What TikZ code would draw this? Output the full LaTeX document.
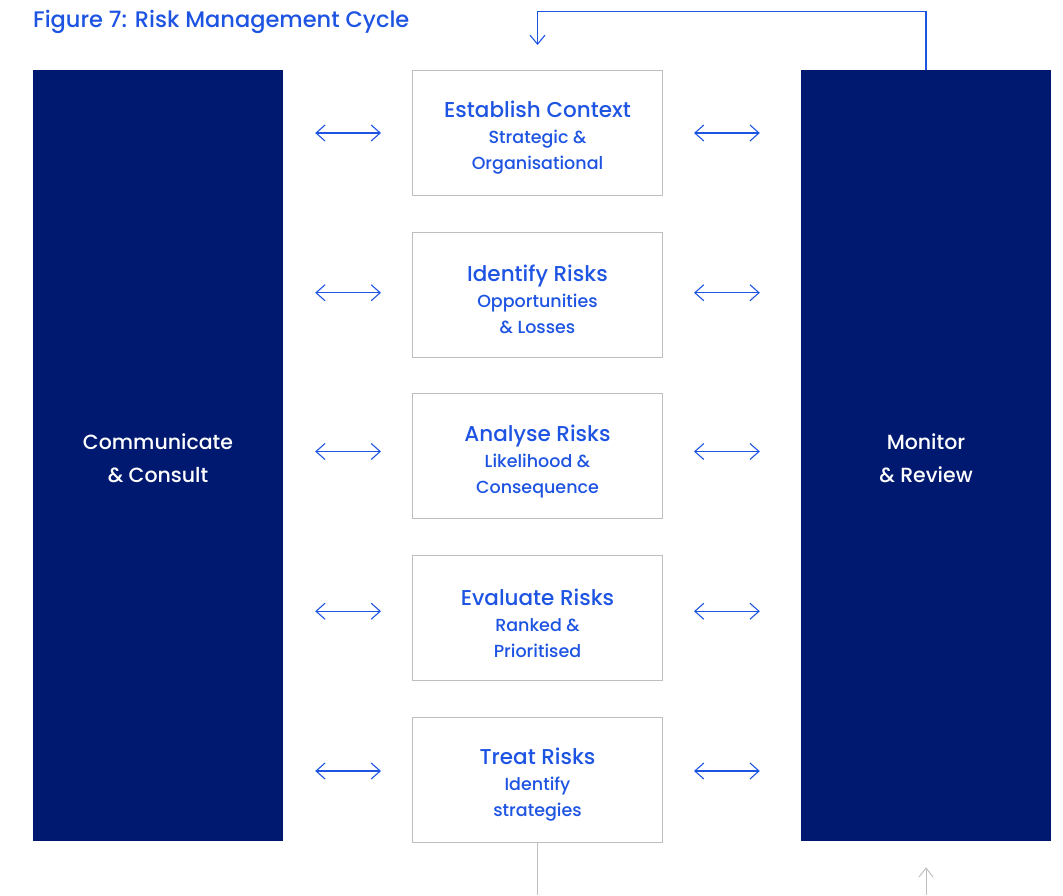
\documentclass[tikz,border=0pt]{standalone}
\usepackage{fontspec}
\setmainfont{Poppins}[UprightFont=* Medium]
\usetikzlibrary{positioning,arrows.meta}
\definecolor{riskblue}{RGB}{30,84,226}
\definecolor{navy}{RGB}{0,25,112}
\definecolor{boxgrey}{RGB}{190,190,190}
% heading line of a stage box, with a strut to sit the block a little lower
\newcommand\stagehead[1]{{\fontsize{21.5}{27}\selectfont\rule{0pt}{26pt}#1}}

\begin{document}
\begin{tikzpicture}[
        x=1pt, y=1pt,
        node distance = 35.75pt,
        every node/.style={align=center, inner sep=0pt},
        stage/.style={draw=boxgrey, line width=1pt, minimum width=250pt, minimum height=125pt,
            text=riskblue, font=\fontsize{17.5}{26}\selectfont},
        side/.style={fill=navy, minimum width=250pt, minimum height=771pt, text=white,
            font=\fontsize{20.5}{33}\selectfont},
        twoway/.style={riskblue, line width=1.1pt,
            {Straight Barb[length=9pt, width=16pt]}-{Straight Barb[length=9pt, width=16pt]}},
        tocomm/.style={twoway, shorten <=32pt, shorten >=31pt},
        tomon/.style={twoway, shorten <=31pt, shorten >=41pt},
    ]
    \useasboundingbox (0,0) rectangle (1063,895);
    \node[anchor=base west, text=riskblue, font=\fontsize{22.5}{24}\selectfont] (title) at (33,867)
        {Figure 7: Risk Management Cycle};

    \node[side] (comm) at (158,439.5) {\rule{0pt}{21pt}Communicate\\ \& Consult};
    \node[side] (mon) at (926,439.5) {\rule{0pt}{21pt}Monitor\\ \& Review};

    \node[stage] (est) at (537.5,762) {\stagehead{Establish Context}\\ Strategic \&\\ Organisational};
    \node[stage, below=of est] (ident) {\stagehead{Identify Risks}\\ Opportunities\\ \& Losses};
    \node[stage, below=of ident] (anal) {\stagehead{Analyse Risks}\\ Likelihood \&\\ Consequence};
    \node[stage, below=of anal] (eval) {\stagehead{Evaluate Risks}\\ Ranked \&\\ Prioritised};
    \node[stage, below=of eval] (treat) {\stagehead{Treat Risks}\\ Identify\\ strategies};

    % two-way links to both sides
    \draw[tocomm] (est.west -| comm.east) -- (est.west);
    \draw[tocomm] ([yshift=2pt]ident.west -| comm.east) -- ([yshift=2pt]ident.west);
    \draw[tocomm] ([yshift=5pt]anal.west -| comm.east) -- ([yshift=5pt]anal.west);
    \draw[tocomm] ([yshift=7pt]eval.west -| comm.east) -- ([yshift=7pt]eval.west);
    \draw[tocomm] ([yshift=9pt]treat.west -| comm.east) -- ([yshift=9pt]treat.west);
    \draw[tomon] (est.east) -- (est.east -| mon.west);
    \draw[tomon] ([yshift=2pt]ident.east) -- ([yshift=2pt]ident.east -| mon.west);
    \draw[tomon] ([yshift=5pt]anal.east) -- ([yshift=5pt]anal.east -| mon.west);
    \draw[tomon] ([yshift=7pt]eval.east) -- ([yshift=7pt]eval.east -| mon.west);
    \draw[tomon] ([yshift=9pt]treat.east) -- ([yshift=9pt]treat.east -| mon.west);

    % feedback loop over the top
    \draw[riskblue, line width=1.1pt, -{Straight Barb[length=9pt, width=15pt]}]
        (mon.north) -- ++(0,58) -| ([yshift=25pt]est.north);

    % lines running off the bottom
    \coordinate (exit) at (537.5,0);
    \coordinate (entry) at (926,0);
    \draw[boxgrey, line width=1pt] (treat.south) -- (exit);
    \draw[boxgrey, line width=1pt, -{Straight Barb[length=9pt, width=14pt]}, shorten >=26pt] (entry) -- (mon.south);
\end{tikzpicture}
\end{document}
